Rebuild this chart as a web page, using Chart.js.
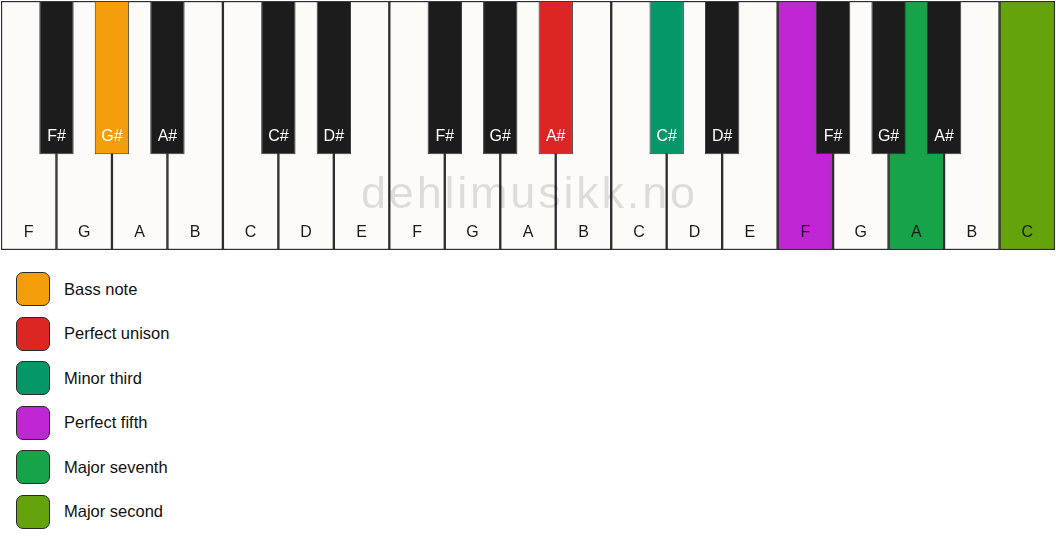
<!DOCTYPE html>
<html><head><meta charset="utf-8">
<script src="https://cdn.jsdelivr.net/npm/chart.js@4.4.1/dist/chart.umd.min.js"></script>
<style>
body{margin:0;background:#fff;font-family:"Liberation Sans",Arial,sans-serif;}
#wrap{position:absolute;left:0;top:0;width:1056px;height:251px;}
#legend{position:absolute;left:16px;top:272px;}
.item{display:flex;align-items:center;height:34px;margin-bottom:10.5px;}
.sw{width:34px;height:34px;box-sizing:border-box;border:1.5px solid #2a2a2a;border-radius:7px;}
.lbl{margin-left:14px;font-size:16.5px;color:#111;}
</style>
</head><body>
<div id="wrap"><canvas id="c" width="1056" height="251"></canvas></div>
<div id="legend"></div>
<script>
const whiteNotes = ['F','G','A','B','C','D','E','F','G','A','B','C','D','E','F','G','A','B','C'];
const blackNotes = ['F#','G#','A#','C#','D#','F#','G#','A#','C#','D#','F#','G#','A#'];
const blackSlots = [1,2,3,5,6,8,9,10,12,13,15,16,17];
const intervalNames = ['Bass note','Perfect unison','Minor third','Perfect fifth','Major seventh','Major second'];
const intervalColors = ['#f59e0b','#dc2626','#059669','#c026d3','#16a34a','#65a30d'];
const intervalKeyKind = ['black','black','black','white','white','white'];
const intervalKeyIndex = [1,7,8,14,16,18];
const blackKeyDepth = 0.615;

const whiteFill = '#fcfbf8', blackFill = '#1c1c1c';
const whiteColors = whiteNotes.map(() => whiteFill);
const blackColors = blackNotes.map(() => blackFill);
intervalKeyKind.forEach((k, i) => {
  if (k === 'white') whiteColors[intervalKeyIndex[i]] = intervalColors[i];
  else blackColors[intervalKeyIndex[i]] = intervalColors[i];
});

const legend = document.getElementById('legend');
intervalNames.forEach((n, i) => {
  const d = document.createElement('div'); d.className = 'item';
  d.innerHTML = '<div class="sw" style="background:' + intervalColors[i] + '"></div><span class="lbl">' + n + '</span>';
  legend.appendChild(d);
});

const keyLabels = {
  id: 'keyLabels',
  afterDatasetsDraw(chart) {
    const ctx = chart.ctx, ca = chart.chartArea;
    ctx.save();
    ctx.textAlign = 'center'; ctx.textBaseline = 'alphabetic';
    ctx.font = '45px "Liberation Sans", Arial, sans-serif';
    if ('letterSpacing' in ctx) ctx.letterSpacing = '2.8px';
    ctx.fillStyle = 'rgba(0,0,0,0.12)';
    ctx.fillText('dehlimusikk.no', (ca.left + ca.right) / 2 + 1.4, ca.top + (ca.bottom - ca.top) * 0.833);
    if ('letterSpacing' in ctx) ctx.letterSpacing = '0px';
    ctx.font = '16px "Liberation Sans", Arial, sans-serif';
    chart.data.datasets.forEach((ds, di) => {
      const meta = chart.getDatasetMeta(di);
      meta.data.forEach((el, i) => {
        const bottom = Math.max(el.y, el.base);
        ctx.fillStyle = ds.labelColor;
        ctx.fillText(ds.noteNames[i], el.x, bottom - 13.3);
      });
    });
    ctx.restore();
  }
};

new Chart(document.getElementById('c'), {
  type: 'bar',
  data: {
    datasets: [
      {
        label: 'Black keys', xAxisID: 'x2', order: 1, noteNames: blackNotes, labelColor: '#ffffff',
        data: blackSlots.map(s => ({x: s, y: [0, blackKeyDepth]})),
        backgroundColor: blackColors, borderColor: '#3a3a3a', borderWidth: 1,
        borderSkipped: false, barPercentage: 0.62, categoryPercentage: 1, grouped: false
      },
      {
        label: 'White keys', xAxisID: 'x', order: 2, noteNames: whiteNotes, labelColor: '#1a1a1a',
        data: whiteNotes.map((n, i) => ({x: i + 0.5, y: [0, 1]})),
        backgroundColor: whiteColors, borderColor: '#2e2e2e', borderWidth: 1.5,
        borderSkipped: false, barPercentage: 1, categoryPercentage: 1, grouped: false
      }
    ]
  },
  options: {
    responsive: false, animation: false,
    layout: {padding: {left: 1, right: 1, top: 1, bottom: 1}},
    plugins: {legend: {display: false}, tooltip: {enabled: false}},
    scales: {
      x: {type: 'linear', offset: false, min: 0, max: whiteNotes.length, display: false, ticks: {stepSize: 1}},
      x2: {type: 'linear', offset: false, min: 0, max: whiteNotes.length, display: false, ticks: {stepSize: 1}},
      y: {min: 0, max: 1, reverse: true, display: false}
    }
  },
  plugins: [keyLabels]
});
</script>
</body></html>
